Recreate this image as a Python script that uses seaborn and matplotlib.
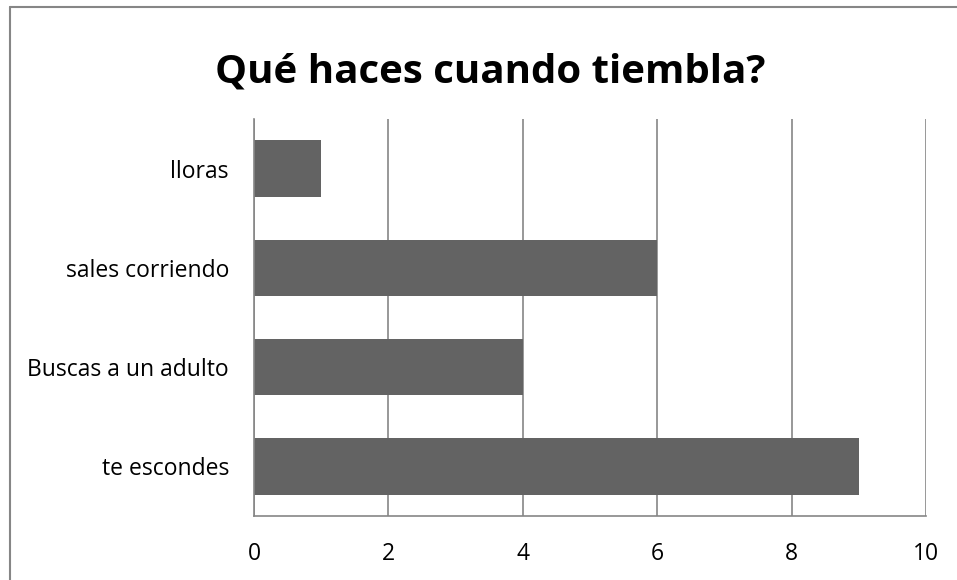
import matplotlib
matplotlib.use("Agg")
import matplotlib.pyplot as plt
import seaborn as sns
import pandas as pd
from matplotlib.lines import Line2D

categories = ['lloras', 'sales corriendo', 'Buscas a un adulto', 'te escondes']
values = [1, 6, 4, 9]
x_ticks = [0, 2, 4, 6, 8, 10]

df = pd.DataFrame({'respuesta': categories, 'cantidad': values})

sns.set_theme(style='white')
plt.rcParams['font.family'] = ['Open Sans', 'DejaVu Sans']

fig = plt.figure(figsize=(9.57, 5.8), dpi=100)
ax = fig.add_axes([254 / 957, 1 - 516 / 580, (926 - 254) / 957, (516 - 119) / 580])

sns.barplot(data=df, x='cantidad', y='respuesta', color='#636363', width=0.57,
            saturation=1, linewidth=0, ax=ax)

ax.set_xlim(0, 10)
ax.set_xticks(x_ticks)
ax.set_xlabel('')
ax.set_ylabel('')
ax.xaxis.grid(True, color='#868686', linewidth=1.2)
ax.set_axisbelow(True)
for side in ['top', 'right']:
    ax.spines[side].set_visible(False)
for side in ['left', 'bottom']:
    ax.spines[side].set_color('#868686')
    ax.spines[side].set_linewidth(1.2)
ax.tick_params(axis='both', length=0, labelsize=16.5, colors='black')
ax.tick_params(axis='x', pad=19)
ax.tick_params(axis='y', pad=18)

fig.text(490 / 957, 1 - 72 / 580, 'Qué haces cuando tiembla?', ha='center', va='center',
         fontsize=29, fontweight='bold', color='black')

# chart border
fig.add_artist(Line2D([9.5 / 957, 9.5 / 957], [0, 1 - 7 / 580], transform=fig.transFigure,
                      color='#868686', linewidth=1.5))
fig.add_artist(Line2D([9.5 / 957, 1], [1 - 7 / 580, 1 - 7 / 580], transform=fig.transFigure,
                      color='#868686', linewidth=1.5))

plt.savefig('out.png', dpi=100)
